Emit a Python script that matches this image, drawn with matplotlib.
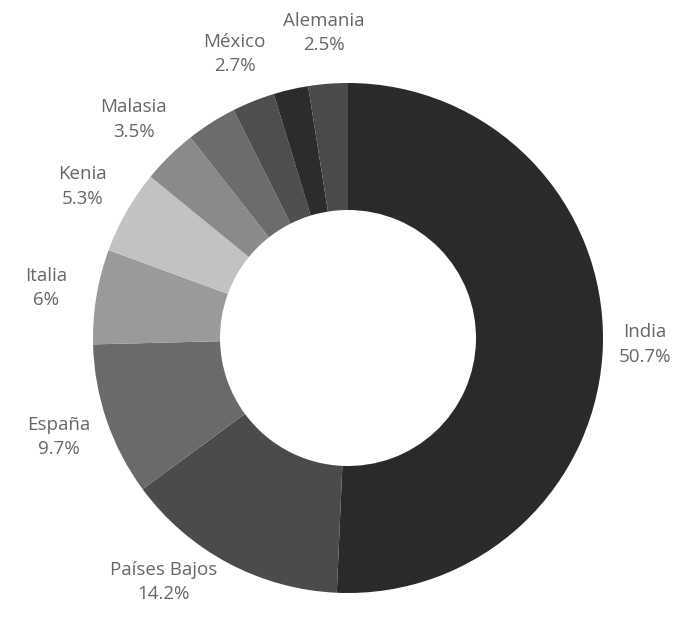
import matplotlib
matplotlib.use("Agg")
import matplotlib.pyplot as plt
import numpy as np

# slices clockwise from 12 o'clock; two small slices have no label
countries = ["India", "Países Bajos", "España", "Italia", "Kenia", "Malasia", "", "México", "", "Alemania"]
shares = [50.7, 14.2, 9.7, 6, 5.3, 3.5, 3.2, 2.7, 2.2, 2.5]
pct_labels = ["50.7%", "14.2%", "9.7%", "6%", "5.3%", "3.5%", "", "2.7%", "", "2.5%"]
colors = ["#2a2a2a", "#4b4b4b", "#6a6a6a", "#9a9a9a", "#c2c2c2",
          "#8a8a8a", "#6c6c6c", "#4e4e4e", "#2c2c2c", "#4a4a4a"]

plt.rcParams["font.family"] = ["Open Sans", "DejaVu Sans"]

fig = plt.figure(figsize=(6.8, 6.17), dpi=100)
ax = fig.add_axes([0, 0, 1, 1])

cx, cy = 348, 279
R = 255
ax.pie(shares, colors=colors, startangle=90, counterclock=False,
       center=(cx, cy), radius=R, frame=True,
       wedgeprops=dict(width=127, linewidth=0))
ax.set_xlim(0, 680)
ax.set_ylim(0, 617)
ax.set_aspect("equal")
ax.axis("off")

# label placement: radial, a small angle nudge for the bottom label
nudge = {"Países Bajos": 9}
total = sum(shares)
start = 0.0
for name, s, p in zip(countries, shares, pct_labels):
    mid = start + s / total * 360 / 2
    start += s / total * 360
    if not name:
        continue
    a = np.deg2rad(mid + nudge.get(name, 0))
    r = (1.165 if name == "India" else 1.2) * R
    x = cx + r * np.sin(a)
    y = cy + r * np.cos(a)
    ax.text(x, y, name + "\n" + p, ha="center", va="center",
            fontsize=13.5, color="#666666", linespacing=1.45)

fig.savefig("out.png", dpi=100)
